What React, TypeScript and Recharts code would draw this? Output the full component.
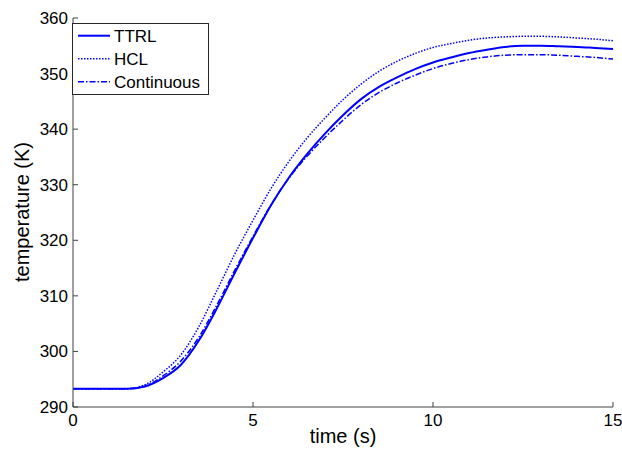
import React from "react";
import { LineChart, Line, XAxis, YAxis } from "recharts";

const TIME = [
  0, 0.5, 1, 1.5, 2, 2.5, 3, 3.5, 4, 4.5, 5, 5.5, 6, 6.5, 7, 7.5, 8, 8.5, 9,
  9.5, 10, 10.5, 11, 11.5, 12, 12.5, 13, 13.5, 14, 14.5, 15,
];

const TTRL = [
  293.3, 293.3, 293.3, 293.3, 293.7, 295.2, 297.6, 302.0, 307.8, 314.2, 320.4,
  326.3, 331.3, 335.5, 339.2, 342.5, 345.4, 347.6, 349.3, 350.8, 352.0, 352.9,
  353.7, 354.3, 354.8, 355.0, 355.0, 354.9, 354.8, 354.6, 354.4,
];

const HCL = [
  293.3, 293.3, 293.3, 293.3, 294.0, 296.3, 299.4, 304.5, 311.0, 317.6, 323.6,
  329.3, 334.2, 338.4, 342.0, 345.3, 348.1, 350.4, 352.2, 353.6, 354.7, 355.4,
  356.0, 356.4, 356.6, 356.7, 356.7, 356.6, 356.4, 356.2, 355.9,
];

const CONTINUOUS = [
  293.3, 293.3, 293.3, 293.3, 293.8, 295.6, 298.3, 302.6, 308.4, 314.7, 320.7,
  326.4, 331.2, 335.1, 338.5, 341.6, 344.4, 346.6, 348.3, 349.7, 350.9, 351.8,
  352.5, 353.0, 353.3, 353.4, 353.4, 353.3, 353.1, 352.9, 352.6,
];

const X_TICKS = [0, 5, 10, 15];
const Y_TICKS = [290, 300, 310, 320, 330, 340, 350, 360];

const SERIES = [
  { key: "ttrl", name: "TTRL", dash: undefined, width: 2 },
  { key: "hcl", name: "HCL", dash: "1.5 1.5", width: 1.5 },
  { key: "cont", name: "Continuous", dash: "6 2 1.5 2", width: 1.5 },
];

const data = TIME.map((t, i) => ({
  t,
  ttrl: TTRL[i],
  hcl: HCL[i],
  cont: CONTINUOUS[i],
}));

const FONT = "Arial, 'Liberation Sans', sans-serif";
const AXIS = "#404040";
const BLUE = "#0000ff";

// MATLAB-style boxed legend, drawn over the plot's north-west corner
function BoxLegend() {
  return (
    <svg width={137} height={72} style={{ display: "block" }}>
      <rect x={0.5} y={0.5} width={136} height={71} fill="#fff" stroke="#262626" />
      {SERIES.map((s, i) => {
        const y = 12.7 + i * 23;
        return (
          <g key={s.key}>
            <line
              x1={6}
              x2={38}
              y1={y}
              y2={y}
              stroke={BLUE}
              strokeWidth={s.width}
              strokeDasharray={s.dash}
            />
            <text x={42} y={y + 6} fontFamily={FONT} fontSize={17} fill="#000">
              {s.name}
            </text>
          </g>
        );
      })}
    </svg>
  );
}

export default function App() {
  const tickStyle = { fontFamily: FONT, fontSize: 17, fill: "#000" };
  return (
    <div style={{ position: "absolute", left: 0, top: 0, width: 622, height: 455, background: "#fff" }}>
      <LineChart
        width={622}
        height={455}
        data={data}
        margin={{ top: 18, right: 9, left: 0, bottom: 0 }}
      >
        <XAxis
          dataKey="t"
          type="number"
          domain={[0, 15]}
          ticks={X_TICKS}
          height={48}
          stroke={AXIS}
          tickSize={-5}
          tickMargin={12}
          tick={tickStyle}
          label={{
            content: () => (
              <text
                x={343}
                y={443}
                textAnchor="middle"
                fontFamily={FONT}
                fontSize={20}
                fill="#000"
              >
                time (s)
              </text>
            ),
          }}
        />
        <XAxis
          xAxisId="top"
          orientation="top"
          type="number"
          domain={[0, 15]}
          ticks={X_TICKS}
          height={0}
          stroke={AXIS}
          tickSize={-5}
          tick={false}
        />
        <YAxis
          type="number"
          domain={[290, 360]}
          ticks={Y_TICKS}
          width={73}
          stroke={AXIS}
          tickSize={-5}
          tickMargin={10}
          tick={tickStyle}
          label={{
            content: () => (
              <text
                x={29}
                y={212}
                transform="rotate(-90 29 212)"
                textAnchor="middle"
                fontFamily={FONT}
                fontSize={20}
                fill="#000"
              >
                temperature (K)
              </text>
            ),
          }}
        />
        <YAxis
          yAxisId="right"
          orientation="right"
          type="number"
          domain={[290, 360]}
          ticks={Y_TICKS}
          width={0}
          stroke={AXIS}
          tickSize={-5}
          tick={false}
        />
        {SERIES.map((s) => (
          <Line
            key={s.key}
            dataKey={s.key}
            name={s.name}
            type="monotone"
            stroke={BLUE}
            strokeWidth={s.width}
            strokeDasharray={s.dash}
            dot={false}
            isAnimationActive={false}
          />
        ))}
      </LineChart>
      <div style={{ position: "absolute", left: 72, top: 23 }}>
        <BoxLegend />
      </div>
    </div>
  );
}
